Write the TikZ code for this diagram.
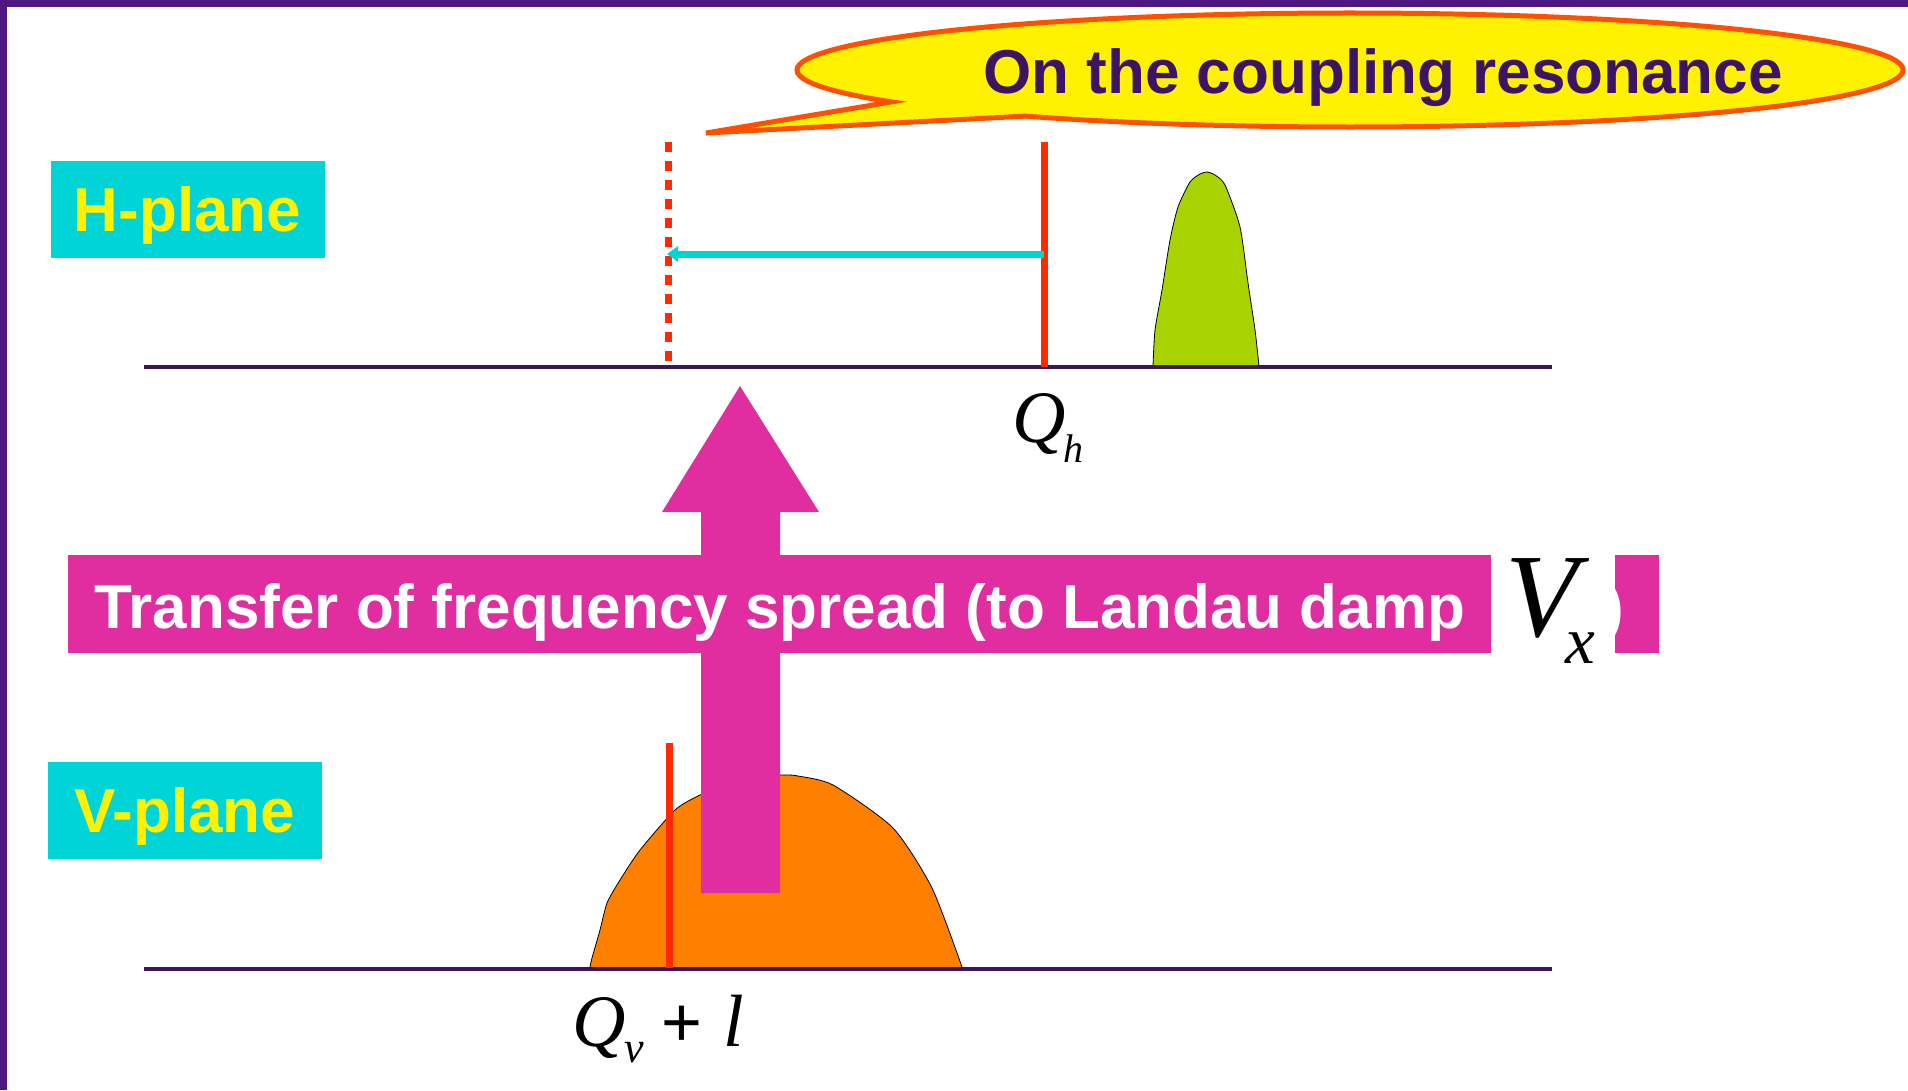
\documentclass[tikz,border=0pt]{standalone}
\usepackage{fontspec}
\setmainfont{Liberation Sans}
\newfontfamily\tunefont{Liberation Serif}
\usetikzlibrary{arrows.meta, calc, positioning}

\definecolor{framepurple}{HTML}{4E1680}
\definecolor{axispurple}{HTML}{3C145F}
\definecolor{calloutink}{HTML}{3C1464}
\definecolor{planecyan}{HTML}{00D4D6}
\definecolor{tunered}{HTML}{FF2A00}
\definecolor{calloutedge}{HTML}{FF5000}
\definecolor{spreadmagenta}{HTML}{E02EA0}
\definecolor{peakgreen}{HTML}{A8D200}
\definecolor{peakorange}{HTML}{FF7F00}

\newcommand{\bigsans}{\fontsize{62}{70}\selectfont\bfseries}
\newcommand{\tunesize}{\fontsize{74}{80}\selectfont}

\begin{document}
\begin{tikzpicture}[x=1pt, y=-1pt,
  plane/.style={rectangle, fill=planecyan, text=yellow, font=\bigsans, minimum width=274pt, minimum height=97pt, inner sep=0pt, text depth=0pt},
  axis/.style={draw=axispurple, line width=3.5pt},
  tune/.style={draw=tunered, line width=7pt},
  shiftedtune/.style={tune, dash pattern=on 10pt off 9pt},
  peak/.style={draw=black, line width=0.8pt},
  spreadtext/.style={text=white, font=\bigsans, inner sep=0pt},
  tunelabel/.style={font=\tunefont\itshape\tunesize, inner sep=0pt},
  shiftarr/.style={draw=planecyan, line width=7pt, -{Triangle[length=11pt, width=15pt]}}
]
\useasboundingbox (0,0) rectangle (1908,1090);

% frame
\fill[framepurple] (0,0) rectangle (1908,7);
\fill[framepurple] (0,0) rectangle (7,1090);

% plane labels
\node[plane] (hplane) at (187.5,209) {H-plane};
\node[plane] (vplane) at (185,810.5) {V-plane};

% spectra
\draw[peak, fill=peakgreen] plot[smooth, tension=0.4] coordinates {(1153,366) (1155,330) (1162,290) (1170,240) (1178,207) (1190,182) (1200,174) (1207,172) (1215,175) (1225,185) (1240,227) (1248,283) (1255,330) (1259,366)};
\draw[peak, fill=peakorange] plot[smooth, tension=0.4] coordinates {(590,967) (592,958) (600,930) (607,903) (620,880) (640,850) (675,810) (700,795) (740,778) (782,775) (798,776) (833,785) (893,828) (932,888) (962,967)};

% axes
\coordinate (haxisL) at (144,367);
\coordinate (haxisR) at (1552,367);
\coordinate (vaxisL) at (144,969);
\coordinate (vaxisR) at (1552,969);
\draw[axis] (haxisL) -- (haxisR);
\draw[axis] (vaxisL) -- (vaxisR);

% tunes
\coordinate (qhTop) at (1044,142);
\coordinate (qhBase) at (1044,367);
\coordinate (qnewTop) at (668,142);
\coordinate (qnewBase) at (668,362);
\coordinate (qvTop) at (669,743);
\coordinate (qvBase) at (669,968);
\draw[tune] (qhTop) -- (qhBase);
\draw[shiftedtune] (qnewTop) -- (qnewBase);
\draw[tune] (qvTop) -- (qvBase);

\coordinate (shiftFrom) at (1044,254);
\coordinate (shiftTo) at (667,254);
\draw[shiftarr] (shiftFrom) -- (shiftTo);

\node[tunelabel, anchor=base west] (qhlabel) at (1012,442) {Q\kern-2pt\raisebox{-20pt}{\fontsize{40}{40}\selectfont h}};
\node[tunelabel, anchor=base west] (qvlabel) at (572,1046) {Q\kern-1pt\raisebox{-16pt}{\fontsize{44}{44}\selectfont v}\kern17pt{\upshape\rmfamily\fontsize{70}{70}\selectfont +}\kern21pt l};

% transfer of frequency spread
\node[fill=spreadmagenta, minimum width=1591pt, minimum height=98pt, inner sep=0pt, anchor=north west] (banner) at (68,555) {};
\fill[spreadmagenta] (701,893) -- (701,512) -- (662,512) -- (740,386) -- (819,512) -- (780,512) -- (780,893) -- cycle;
\node[spreadtext, anchor=base west] (spreadtxt) at (94,628) {Transfer of frequency spread (to Landau damp};
\node[spreadtext, anchor=base west] (closeparen) at (1603,628) {)};
\node[fill=white, minimum width=124pt, minimum height=98pt, inner sep=0pt, anchor=north west] (vxmask) at (1491,555) {};
\node[font=\tunefont\itshape\fontsize{119}{119}\selectfont, inner sep=0pt, anchor=base west] (vx) at (1505,636) {V\kern-12pt\raisebox{-27pt}{\fontsize{67}{67}\selectfont x}};

% callout
\coordinate (calloutC) at (1350,70);
\coordinate (calloutTip) at (706,133);
\draw[calloutedge, line width=5pt, fill=yellow, line join=miter]
  ($(calloutC)+(126:553 and 57)$) -- (calloutTip) -- ($(calloutC)+(146:553 and 57)$)
  arc[start angle=146, end angle=486, x radius=553, y radius=57] -- cycle;
\node[text=calloutink, font=\bigsans, inner sep=0pt, anchor=base] (callout) at (1383,93) {On the coupling resonance};

\end{tikzpicture}
\end{document}
